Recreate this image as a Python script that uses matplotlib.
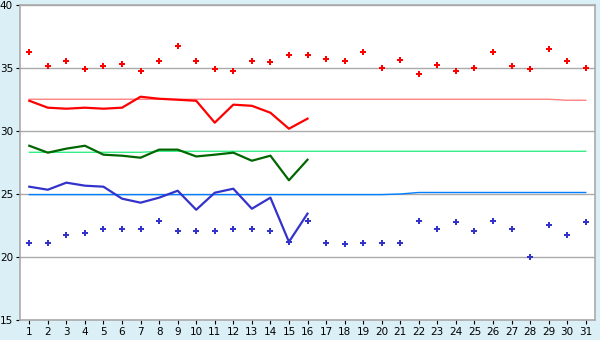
import numpy as np
import matplotlib.pyplot as plt

days = np.arange(1, 32)

# daily max readings (red crosses) and min readings (blue crosses)
max_pts = [36.25, 35.13, 35.53, 34.9, 35.13, 35.29, 34.74, 35.53, 36.72, 35.53,
           34.9, 34.74, 35.53, 35.45, 36.0, 36.0, 35.69, 35.53, 36.25, 35.0,
           35.6, 34.5, 35.21, 34.74, 35.0, 36.25, 35.13, 34.9, 36.48, 35.53, 35.0]
min_pts = [21.08, 21.08, 21.72, 21.88, 22.2, 22.2, 22.2, 22.83, 22.04, 22.04,
           22.06, 22.2, 22.2, 22.04, 21.2, 22.83, 21.08, 21.0, 21.08, 21.08,
           21.08, 22.83, 22.2, 22.75, 22.04, 22.83, 22.2, 20.0, 22.51, 21.72, 22.75]

# current month curves (days 1-16)
cur_days = np.arange(1, 17)
red_line = [32.4, 31.85, 31.77, 31.85, 31.77, 31.85, 32.72, 32.56, 32.48, 32.4,
            30.66, 32.09, 32.0, 31.45, 30.18, 30.98]
green_line = [28.83, 28.28, 28.6, 28.83, 28.12, 28.04, 27.88, 28.52, 28.52, 27.98,
              28.12, 28.28, 27.64, 28.04, 26.09, 27.72]
blue_line = [25.58, 25.34, 25.9, 25.66, 25.58, 24.63, 24.31, 24.71, 25.26, 23.75,
             25.1, 25.42, 23.83, 24.71, 21.2, 23.44]

# long-term averages
avg_max = [32.52] * 29 + [32.44] * 2
avg_mid = [28.31] * 7 + [28.39] * 24
avg_min = [24.95] * 20 + [25.0] + [25.12] * 10

fig = plt.figure(figsize=(6, 3.4), dpi=100, facecolor='#daeff6')
ax = fig.add_axes([20 / 600, 20 / 340, 575 / 600, 315 / 340])
ax.set_facecolor('white')

ax.plot(days, avg_max, color='#ff8080', lw=1.0, zorder=2)
ax.plot(days, avg_mid, color='#33ee88', lw=1.0, zorder=2)
ax.plot(days, avg_min, color='#0080ff', lw=1.0, zorder=2)

ax.plot(cur_days, red_line, color='#ff0000', lw=1.6, zorder=3)
ax.plot(cur_days, green_line, color='#006600', lw=1.6, zorder=3)
ax.plot(cur_days, blue_line, color='#3333cc', lw=1.6, zorder=3)

ax.plot(days, max_pts, 'P', color='#ff0000', ms=4.5, mew=0, ls='none', zorder=4)
ax.plot(days, min_pts, 'P', color='#3333cc', ms=4.5, mew=0, ls='none', zorder=4)

ax.set_xlim(0.5, 31.5)
ax.set_ylim(15, 40)
ax.set_xticks(days)
ax.set_yticks([15, 20, 25, 30, 35, 40])
ax.yaxis.grid(True, color='#aaaaaa', lw=1)
ax.set_axisbelow(True)
for s in ax.spines.values():
    s.set_color('#aaaaaa')
    s.set_linewidth(1.2)
ax.tick_params(axis='both', labelsize=7.5, length=3, width=0.8, color='black', pad=2)

fig.savefig('out.png', dpi=100, facecolor=fig.get_facecolor())
